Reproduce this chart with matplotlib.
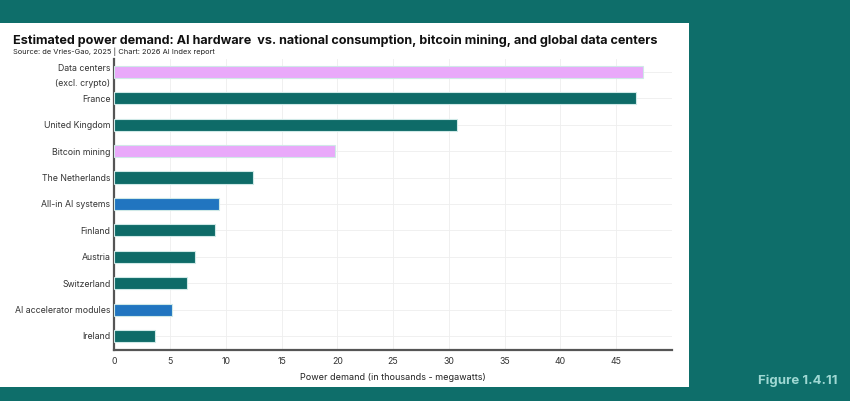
import matplotlib.pyplot as plt
from matplotlib.patches import Rectangle

categories = ["Data centers\n(excl. crypto)", "France", "United Kingdom", "Bitcoin mining",
              "The Netherlands", "All-in AI systems", "Finland", "Austria", "Switzerland",
              "AI accelerator modules", "Ireland"]
values = [47.4, 46.8, 30.7, 19.8, 12.4, 9.4, 9.0, 7.2, 6.5, 5.2, 3.6]
kinds = ["other", "country", "country", "other", "country", "ai", "country", "country",
         "country", "ai", "country"]
xticks = [0, 5, 10, 15, 20, 25, 30, 35, 40, 45]

colors = {"country": "#0e6b68", "other": "#e9a9fa", "ai": "#2175c0"}
bg = "#0e6e6a"

plt.rcParams['font.family'] = ['Inter', 'DejaVu Sans']

fig = plt.figure(figsize=(8.5, 4.01), dpi=100)
fig.patch.set_facecolor(bg)

# white card behind the chart
fig.patches.append(Rectangle((0, 14 / 401), 689 / 850, (387 - 23) / 401,
                             transform=fig.transFigure, facecolor="white",
                             edgecolor="none", zorder=-5))

ax = fig.add_axes([0.1347, 0.1272, 0.6556, 0.7258])
ax.set_zorder(2)
ax.set_facecolor("none")

y = list(range(len(categories)))[::-1]
ax.barh(y, values, height=0.46, color=[colors[k] for k in kinds],
        edgecolor="#cfe9e7", linewidth=0.8, zorder=3)

ax.set_yticks(y)
ax.set_yticklabels(categories, fontsize=6.3, linespacing=1.9, color="#333333")
ax.set_xticks(xticks)
ax.set_xticklabels([str(t) for t in xticks], fontsize=6.3, color="#333333")
ax.set_xlim(0, 50)
ax.set_ylim(-0.53, 10.49)
ax.tick_params(length=0, pad=5)
ax.tick_params(axis="y", pad=3)

ax.grid(True, color="#eeeeee", linewidth=0.6, zorder=0)
ax.set_axisbelow(True)
for s in ["top", "right"]:
    ax.spines[s].set_visible(False)
for s in ["left", "bottom"]:
    ax.spines[s].set_color("#555555")
    ax.spines[s].set_linewidth(1.6)

ax.set_xlabel("Power demand (in thousands - megawatts)", fontsize=6.5, labelpad=5,
              color="#222222")

fig.text(13 / 850, 1 - 41 / 401,
         "Estimated power demand: AI hardware  vs. national consumption, bitcoin mining, and global data centers",
         fontsize=9.1, fontweight="bold", va="center", ha="left", color="#111111", zorder=5)
fig.text(13 / 850, 1 - 52 / 401, "Source: de Vries-Gao, 2025 | Chart: 2026 AI Index report",
         fontsize=5.35, va="center", ha="left", color="#222222", zorder=5)
fig.text(838 / 850, 1 - 381 / 401, "Figure 1.4.11", fontsize=9.5, fontweight="bold",
         color="#9fd8d3", ha="right", va="center")

fig.savefig("out.png", dpi=100, facecolor=fig.get_facecolor())
